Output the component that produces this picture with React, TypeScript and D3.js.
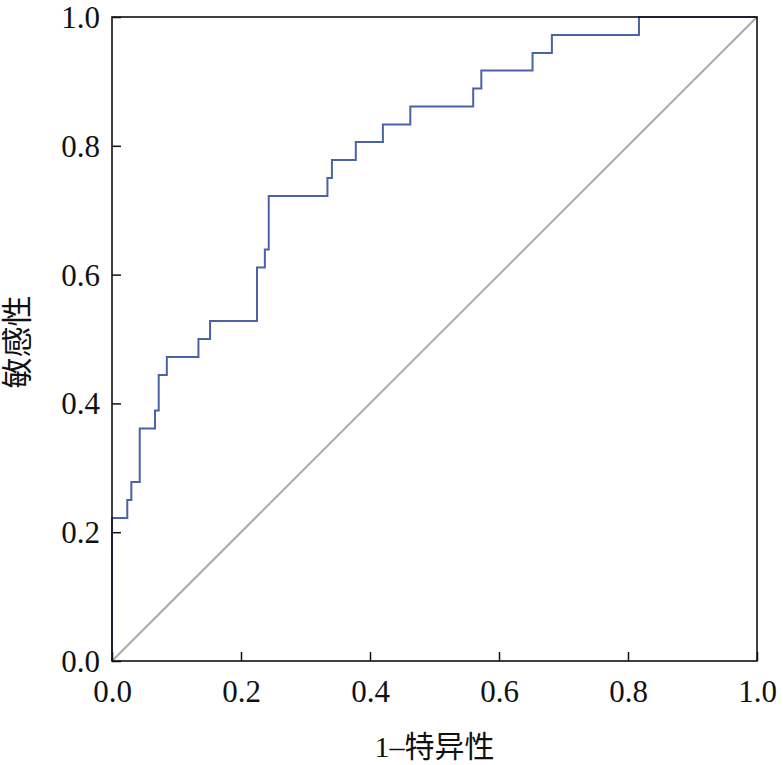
import React, { useEffect, useRef } from "react";
import * as d3 from "d3";

// ROC step points (1 - specificity, sensitivity)
const fpr: number[] = [
  0, 0, 0.0237, 0.03, 0.043, 0.0667, 0.0724, 0.085, 0.134, 0.152, 0.2248, 0.237,
  0.243, 0.334, 0.341, 0.378, 0.42, 0.4625, 0.56, 0.5726, 0.652, 0.682, 0.817, 1,
];
const tpr: number[] = [
  0, 0.222, 0.25, 0.278, 0.361, 0.389, 0.444, 0.472, 0.5, 0.528, 0.611, 0.639,
  0.722, 0.75, 0.778, 0.806, 0.833, 0.861, 0.889, 0.917, 0.944, 0.972, 1, 1,
];
const tickValues: number[] = [0, 0.2, 0.4, 0.6, 0.8, 1.0];
const xTitle = "1–特异性";
const yTitle = "敏感性";

const W = 783;
const H = 765;
const margin = { top: 17, right: 26, bottom: 104, left: 112 };
const FONT = "'Liberation Serif', 'Times New Roman', 'Noto Sans CJK SC', serif";

const App: React.FC = () => {
  const svgRef = useRef<SVGSVGElement | null>(null);

  useEffect(() => {
    if (!svgRef.current) return;
    const svg = d3.select(svgRef.current);
    svg.selectAll("*").remove();

    const x = d3.scaleLinear().domain([0, 1]).range([margin.left, W - margin.right]);
    const y = d3.scaleLinear().domain([0, 1]).range([H - margin.bottom, margin.top]);

    // reference diagonal
    svg.append("line")
      .attr("x1", x(0)).attr("y1", y(0))
      .attr("x2", x(1)).attr("y2", y(1))
      .attr("stroke", "#ababab")
      .attr("stroke-width", 2);

    // ROC curve
    const pts: [number, number][] = fpr.map((f, i) => [f, tpr[i]]);
    const line = d3.line<[number, number]>()
      .x((d) => x(d[0]))
      .y((d) => y(d[1]))
      .curve(d3.curveStepAfter);
    svg.append("path")
      .datum(pts)
      .attr("d", line)
      .attr("fill", "none")
      .attr("stroke", "#4a63a8")
      .attr("stroke-width", 2);

    // frame
    svg.append("rect")
      .attr("x", x(0)).attr("y", y(1))
      .attr("width", x(1) - x(0)).attr("height", y(0) - y(1))
      .attr("fill", "none")
      .attr("stroke", "#111")
      .attr("stroke-width", 1.6);

    // axes with inward ticks
    const xAxis = svg.append("g")
      .attr("transform", `translate(0,${y(0)})`)
      .call(d3.axisBottom(x).tickValues(tickValues).tickFormat(d3.format(".1f")).tickSizeInner(-9).tickSizeOuter(0));
    const yAxis = svg.append("g")
      .attr("transform", `translate(${x(0)},0)`)
      .call(d3.axisLeft(y).tickValues(tickValues).tickFormat(d3.format(".1f")).tickSizeInner(-9).tickSizeOuter(0));

    [xAxis, yAxis].forEach((g) => {
      g.select(".domain").remove();
      g.selectAll(".tick line").attr("stroke", "#111").attr("stroke-width", 1.5);
      g.selectAll(".tick text")
        .attr("fill", "#111")
        .style("font-family", FONT)
        .style("font-size", "31px");
    });
    xAxis.selectAll(".tick text").attr("y", 0).attr("dy", "41px");
    yAxis.selectAll(".tick text").attr("x", -12).attr("dy", "0.34em");

    // titles
    svg.append("text")
      .attr("x", (x(0) + x(1)) / 2)
      .attr("y", 757)
      .attr("text-anchor", "middle")
      .attr("fill", "#111")
      .style("font-family", FONT)
      .style("font-size", "30px")
      .text(xTitle);

    svg.append("text")
      .attr("transform", `translate(28,${(y(0) + y(1)) / 2 + 3}) rotate(-90)`)
      .attr("text-anchor", "middle")
      .attr("fill", "#111")
      .style("font-family", FONT)
      .style("font-size", "31px")
      .text(yTitle);
  }, []);

  return (
    <svg
      ref={svgRef}
      width={W}
      height={H}
      style={{ position: "absolute", left: 0, top: 0, background: "#fff" }}
    />
  );
};

export default App;
